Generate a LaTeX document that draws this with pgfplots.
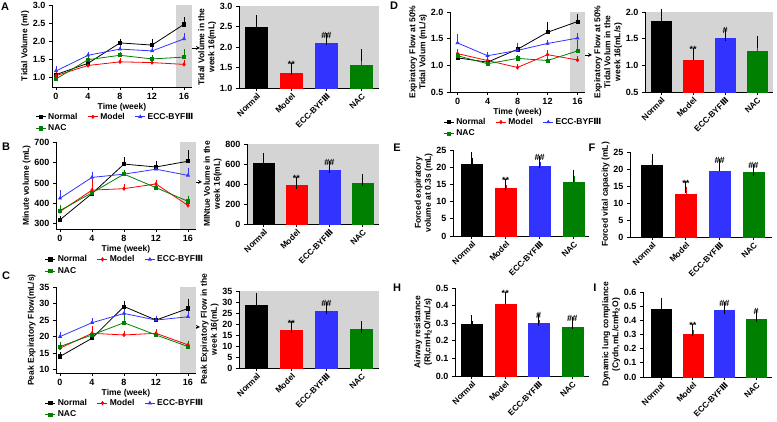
\documentclass[border=0pt]{standalone}
\usepackage{pgfplots}
\pgfplotsset{compat=1.18}
\usepackage{fontspec}
\setmainfont{Liberation Sans}
\newfontfamily\dv{DejaVu Sans}
\definecolor{cN}{RGB}{0,0,0}
\definecolor{cM}{RGB}{255,0,0}
\definecolor{cE}{RGB}{51,51,255}
\definecolor{cA}{RGB}{0,128,0}
\definecolor{bg}{RGB}{212,212,212}
\newcommand\tf{\bfseries\fontsize{9}{10}\selectfont}
\newcommand\xf{\bfseries\fontsize{8.3}{9}\selectfont}
\newcommand\lf{\bfseries\fontsize{8.5}{10}\selectfont}
\newcommand\sigf{\bfseries\fontsize{9}{10}\selectfont}
\newcommand\rom{{\dv\bfseries Ⅲ}}
\tikzset{sig/.style={font=\sigf, anchor=south, inner sep=1pt}}
\pgfplotsset{
 gp/.style={scale only axis, anchor=south west, axis x line*=bottom, axis y line*=left, enlargelimits=false,
   tick align=outside, major tick length=3pt, tick style={black, line width=0.8pt},
   axis line style={line width=0.9pt},
   tick label style={font=\tf}, label style={font=\lf}, ylabel style={yshift=-3pt},
   /pgf/number format/assume math mode=true, clip=false},
 lp/.style={gp, xtick={0,4,8,12,16}, xlabel={Time (week)}, xlabel style={yshift=3pt},
   legend columns=3, legend cell align=left,
   legend style={draw=none, fill=none, font=\lf, inner sep=0pt, row sep=0pt,
     /tikz/every even column/.append style={column sep=8pt}},
   legend image code/.code={\draw[mark repeat=2,mark phase=2,##1] plot coordinates {(0pt,0pt)(5pt,0pt)(10pt,0pt)};},
   every axis plot/.append style={line width=0.8pt, mark size=1.6pt,
     error bars/y dir=plus, error bars/y explicit,
     error bars/error mark options={mark size=2.5pt, line width=0.6pt}}},
 bp/.style={gp, ybar, bar shift=0pt, xtick={0,1,2,3}, xmin=-0.5, xmax=3.5,
   xticklabels={Normal,Model,ECC-BYF\rom,NAC},
   xticklabel style={rotate=45, anchor=north east, inner sep=1pt, font=\xf},
   every axis plot/.append style={line width=0.5pt,
     error bars/y dir=plus, error bars/y explicit,
     error bars/error mark options={mark size=6pt, line width=0.8pt}}},
 gbg/.style={axis background/.style={fill=bg}},
 dec1/.style={yticklabel style={/pgf/number format/.cd, fixed, fixed zerofill, precision=1}},
 sN/.style={color=cN, mark=square*},
 sM/.style={color=cM, mark=diamond*},
 sE/.style={color=cE, mark=triangle*},
 sA/.style={color=cA, mark=square*},
}
\begin{document}
\begin{tikzpicture}
\useasboundingbox (0,0) rectangle (777pt,422pt);
% panel letters
\foreach \t/\x/\y in {A/5/415, B/6/275, C/6/146, D/394/416, E/397/274, F/592/274, H/397/134, I/595/134}
  \node[font=\bfseries\fontsize{11}{12}\selectfont] at (\x pt,\y pt) {\t};
% arrows
\draw[-stealth, line width=0.8pt] (191pt,374pt) -- (200pt,374pt);
\draw[-stealth, line width=0.8pt] (193pt,240pt) -- (202pt,240pt);
\draw[-stealth, line width=0.8pt] (191pt,95pt) -- (200pt,95pt);
\draw[-stealth, line width=0.8pt] (583pt,367pt) -- (592pt,367pt);

% ---------- A line ----------
\begin{axis}[lp, at={(52pt,335pt)}, width=140pt, height=82pt, xmin=-0.5, xmax=17, ymin=0.75, ymax=3,
  ytick={1,1.5,2,2.5,3}, dec1, ylabel={Tidal Volume (ml)},
  legend style={at={(-0.12,-0.29)}, anchor=north west}]
\fill[bg] (axis cs:15,0.75) rectangle (axis cs:17,3);
\addplot[sN] coordinates {(0,1.09) +- (0,0.03) (4,1.40) +- (0,0.03) (8,1.96) +- (0,0.05) (12,1.90) +- (0,0.10) (16,2.47) +- (0,0.12)};
\addplot[sM] coordinates {(0,1.06) +- (0,0.03) (4,1.34) +- (0,0.03) (8,1.44) +- (0,0.03) (12,1.42) +- (0,0.03) (16,1.37) +- (0,0.04)};
\addplot[sE] coordinates {(0,1.19) +- (0,0.06) (4,1.62) +- (0,0.03) (8,1.79) +- (0,0.04) (12,1.74) +- (0,0.04) (16,2.07) +- (0,0.08)};
\addplot[sA] coordinates {(0,0.97) +- (0,0.03) (4,1.50) +- (0,0.03) (8,1.62) +- (0,0.03) (12,1.52) +- (0,0.05) (16,1.57) +- (0,0.15)};
\legend{Normal,Model,ECC-BYF\rom,NAC}
\end{axis}

% ---------- A bar ----------
\begin{axis}[bp, gbg, at={(239pt,334pt)}, width=140pt, height=82pt, bar width=22pt, ymin=1, ymax=3,
  ytick={1,1.5,2,2.5,3}, dec1, ylabel={Tidal Volume in the\\week 16(mL)}, ylabel style={align=center}]
\addplot[fill=cN, draw=cN] coordinates {(0,2.48) +- (0,0.15)};
\addplot[fill=cM, draw=cM] coordinates {(1,1.37) +- (0,0.10)};
\addplot[fill=cE, draw=cE] coordinates {(2,2.08) +- (0,0.11)};
\addplot[fill=cA, draw=cA] coordinates {(3,1.56) +- (0,0.24)};
\node[sig] at (axis cs:1,1.47) {**};
\node[sig] at (axis cs:2,2.19) {\#\#};
\end{axis}

% ---------- B line ----------
\begin{axis}[lp, at={(56pt,193pt)}, width=140pt, height=87pt, xmin=-0.5, xmax=17, ymin=275, ymax=700,
  ytick={300,400,500,600,700}, ylabel={Minute volume (mL)},
  legend style={at={(-0.08,-0.28)}, anchor=north west}]
\fill[bg] (axis cs:15,275) rectangle (axis cs:17,700);
\addplot[sN] coordinates {(0,320) +- (0,5) (4,448) +- (0,8) (8,592) +- (0,22) (12,578) +- (0,18) (16,606) +- (0,42)};
\addplot[sM] coordinates {(0,360) +- (0,20) (4,465) +- (0,40) (8,472) +- (0,12) (12,495) +- (0,8) (16,390) +- (0,10)};
\addplot[sE] coordinates {(0,425) +- (0,28) (4,527) +- (0,14) (8,543) +- (0,8) (12,567) +- (0,10) (16,537) +- (0,22)};
\addplot[sA] coordinates {(0,365) +- (0,10) (4,452) +- (0,8) (8,543) +- (0,10) (12,477) +- (0,8) (16,410) +- (0,14)};
\legend{Normal,Model,ECC-BYF\rom,NAC}
\end{axis}

% ---------- B bar ----------
\begin{axis}[bp, gbg, at={(247pt,198pt)}, width=132pt, height=80pt, bar width=21pt, ymin=0, ymax=800,
  ytick={0,200,400,600,800}, ylabel={MINtue Volume in the\\week 16(mL)}, ylabel style={align=center}]
\addplot[fill=cN, draw=cN] coordinates {(0,603) +- (0,50)};
\addplot[fill=cM, draw=cM] coordinates {(1,387) +- (0,23)};
\addplot[fill=cE, draw=cE] coordinates {(2,533) +- (0,37)};
\addplot[fill=cA, draw=cA] coordinates {(3,410) +- (0,25)};
\node[sig] at (axis cs:1,410) {**};
\node[sig] at (axis cs:2,570) {\#\#};
\end{axis}

% ---------- C line ----------
\begin{axis}[lp, at={(56pt,49pt)}, width=140pt, height=86pt, xmin=-0.5, xmax=17, ymin=9, ymax=35,
  ytick={10,15,20,25,30,35}, ylabel={Peak Expiratory Flow(mL/s)},
  legend style={at={(-0.08,-0.28)}, anchor=north west}]
\fill[bg] (axis cs:15,9) rectangle (axis cs:17,35);
\addplot[sN] coordinates {(0,14.0) +- (0,0.5) (4,19.5) +- (0,0.5) (8,29.1) +- (0,1.0) (12,25.0) +- (0,0.5) (16,28.5) +- (0,2.2)};
\addplot[sM] coordinates {(0,16.5) +- (0,0.5) (4,21.0) +- (0,1.5) (8,20.5) +- (0,0.5) (12,21.0) +- (0,0.5) (16,17.5) +- (0,0.5)};
\addplot[sE] coordinates {(0,20.0) +- (0,0.5) (4,24.2) +- (0,0.6) (8,27.0) +- (0,0.8) (12,25.0) +- (0,0.5) (16,26.0) +- (0,1.0)};
\addplot[sA] coordinates {(0,17.0) +- (0,0.5) (4,20.5) +- (0,0.5) (8,24.2) +- (0,2.5) (12,20.5) +- (0,0.5) (16,17.0) +- (0,0.5)};
\legend{Normal,Model,ECC-BYF\rom,NAC}
\end{axis}

% ---------- C bar ----------
\begin{axis}[bp, gbg, at={(239pt,54pt)}, width=140pt, height=77pt, bar width=22pt, ymin=0, ymax=35,
  ytick={0,5,10,15,20,25,30,35}, ylabel={Peak Expiratory Flow in the\\week 16(mL)}, ylabel style={align=center}]
\addplot[fill=cN, draw=cN] coordinates {(0,28.6) +- (0,2.8)};
\addplot[fill=cM, draw=cM] coordinates {(1,17.0) +- (0,1.5)};
\addplot[fill=cE, draw=cE] coordinates {(2,26.0) +- (0,1.4)};
\addplot[fill=cA, draw=cA] coordinates {(3,17.7) +- (0,0.8)};
\node[sig] at (axis cs:1,18.5) {**};
\node[sig] at (axis cs:2,27.4) {\#\#};
\end{axis}

% ---------- D line ----------
\begin{axis}[lp, at={(450pt,330pt)}, width=135pt, height=80pt, xmin=-1, xmax=17, ymin=0.5, ymax=2,
  ytick={0.5,1,1.5,2}, dec1, ylabel={Expiratory Flow at 50\%\\Tidal Volum (mL/s)}, ylabel style={align=center},
  legend style={at={(-0.05,-0.30)}, anchor=north west}]
\fill[bg] (axis cs:15,0.5) rectangle (axis cs:17,2);
\addplot[sN] coordinates {(0,1.14) +- (0,0.02) (4,1.06) +- (0,0.02) (8,1.30) +- (0,0.07) (12,1.62) +- (0,0.15) (16,1.82) +- (0,0.10)};
\addplot[sM] coordinates {(0,1.22) +- (0,0.03) (4,1.09) +- (0,0.02) (8,0.96) +- (0,0.02) (12,1.20) +- (0,0.04) (16,1.10) +- (0,0.03)};
\addplot[sE] coordinates {(0,1.42) +- (0,0.12) (4,1.18) +- (0,0.02) (8,1.28) +- (0,0.10) (12,1.41) +- (0,0.02) (16,1.51) +- (0,0.04)};
\addplot[sA] coordinates {(0,1.18) +- (0,0.02) (4,1.03) +- (0,0.02) (8,1.13) +- (0,0.02) (12,1.09) +- (0,0.02) (16,1.27) +- (0,0.15)};
\legend{Normal,Model,ECC-BYF\rom,NAC}
\end{axis}

% ---------- D bar ----------
\begin{axis}[bp, gbg, at={(645pt,330pt)}, width=128pt, height=80pt, bar width=20pt, ymin=0.5, ymax=2,
  ytick={0.5,1,1.5,2}, dec1, ylabel={Expiratory Flow at 50\%\\Tidal Volum in the\\week 16(mL/s)}, ylabel style={align=center}]
\addplot[fill=cN, draw=cN] coordinates {(0,1.82) +- (0,0.12)};
\addplot[fill=cM, draw=cM] coordinates {(1,1.10) +- (0,0.11)};
\addplot[fill=cE, draw=cE] coordinates {(2,1.50) +- (0,0.07)};
\addplot[fill=cA, draw=cA] coordinates {(3,1.27) +- (0,0.17)};
\node[sig] at (axis cs:1,1.21) {**};
\node[sig] at (axis cs:2,1.57) {\#};
\end{axis}

% ---------- E ----------
\begin{axis}[bp, at={(453pt,186pt)}, width=136pt, height=86pt, bar width=21pt, xmin=-0.55, xmax=3.45, ymin=0, ymax=25,
  ytick={0,5,10,15,20,25}, ylabel={Forced expiratory\\volume at 0.3s (mL)}, ylabel style={align=center}]
\addplot[fill=cN, draw=cN] coordinates {(0,20.9) +- (0,1.9)};
\addplot[fill=cM, draw=cM] coordinates {(1,13.8) +- (0,1.1)};
\addplot[fill=cE, draw=cE] coordinates {(2,20.4) +- (0,1.1)};
\addplot[fill=cA, draw=cA] coordinates {(3,15.5) +- (0,1.8)};
\node[sig] at (axis cs:1,14.9) {**};
\node[sig] at (axis cs:2,21.5) {\#\#};
\end{axis}

% ---------- F ----------
\begin{axis}[bp, at={(630pt,185pt)}, width=142pt, height=85pt, bar width=21pt, xmin=-0.65, xmax=3.55, ymin=0, ymax=25,
  ytick={0,5,10,15,20,25}, ylabel={Forced vital capacity (mL)}]
\addplot[fill=cN, draw=cN] coordinates {(0,21.1) +- (0,1.6)};
\addplot[fill=cM, draw=cM] coordinates {(1,12.7) +- (0,1.9)};
\addplot[fill=cE, draw=cE] coordinates {(2,19.2) +- (0,2.0)};
\addplot[fill=cA, draw=cA] coordinates {(3,19.1) +- (0,0.7)};
\node[sig] at (axis cs:1,14.6) {**};
\node[sig] at (axis cs:2,21.2) {\#\#};
\node[sig] at (axis cs:3,19.8) {\#\#};
\end{axis}

% ---------- H ----------
\begin{axis}[bp, at={(455pt,46pt)}, width=134pt, height=88pt, bar width=21pt, ymin=0, ymax=0.5,
  ytick={0,0.1,0.2,0.3,0.4,0.5}, dec1, ylabel={Airway resistance\\(RI,cmH\textsubscript{2}O/mL/s)}, ylabel style={align=center}]
\addplot[fill=cN, draw=cN] coordinates {(0,0.296) +- (0,0.016)};
\addplot[fill=cM, draw=cM] coordinates {(1,0.407) +- (0,0.037)};
\addplot[fill=cE, draw=cE] coordinates {(2,0.298) +- (0,0.020)};
\addplot[fill=cA, draw=cA] coordinates {(3,0.278) +- (0,0.025)};
\node[sig] at (axis cs:1,0.445) {**};
\node[sig] at (axis cs:2,0.318) {\#};
\node[sig] at (axis cs:3,0.303) {\#\#};
\end{axis}

% ---------- I ----------
\begin{axis}[bp, at={(643pt,45pt)}, width=129pt, height=85pt, bar width=20pt, xmin=-0.57, xmax=3.5, ymin=0, ymax=0.6,
  ytick={0,0.1,0.2,0.3,0.4,0.5,0.6}, dec1, ylabel={Dynamic lung compliance\\(Cydn,mL/cmH\textsubscript{2}O)}, ylabel style={align=center}]
\addplot[fill=cN, draw=cN] coordinates {(0,0.480) +- (0,0.032)};
\addplot[fill=cM, draw=cM] coordinates {(1,0.300) +- (0,0.035)};
\addplot[fill=cE, draw=cE] coordinates {(2,0.470) +- (0,0.018)};
\addplot[fill=cA, draw=cA] coordinates {(3,0.410) +- (0,0.022)};
\node[sig] at (axis cs:1,0.337) {**};
\node[sig] at (axis cs:2,0.490) {\#\#};
\node[sig] at (axis cs:3,0.434) {\#};
\end{axis}
\end{tikzpicture}
\end{document}
